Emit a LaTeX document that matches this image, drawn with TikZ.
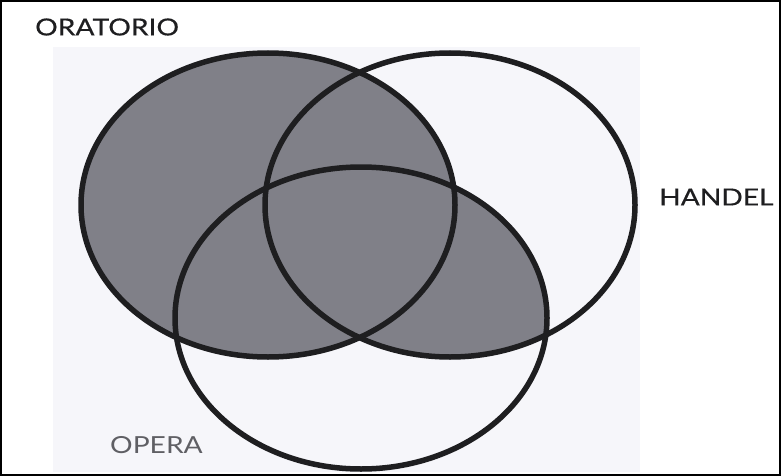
\documentclass[tikz,border=0pt]{standalone}
\usepackage{fontspec}
\setmainfont[FakeStretch=1.2, FakeBold=0.4]{Lato}
\newfontfamily\thinlato[FakeStretch=1.2]{Lato}
\usetikzlibrary{positioning}
\definecolor{vnedge}{RGB}{30,30,32}
\definecolor{vnfill}{RGB}{128,128,136}
\definecolor{vnpanel}{RGB}{246,246,250}
\definecolor{vnsoft}{RGB}{95,95,100}
\tikzset{
  ring/.style={draw=vnedge, line width=5.5pt},
  shade/.style={fill=vnfill},
  lbl/.style={font=\fontsize{23.5}{23.5}\selectfont, text=vnedge, inner sep=0pt},
  softlbl/.style={lbl, font=\thinlato\fontsize{23.5}{23.5}\selectfont, text=vnsoft},
  frame/.style={draw=black, line width=2pt}
}
\begin{document}
\begin{tikzpicture}[x=1pt, y=-1pt]
  \useasboundingbox (0,0) rectangle (781,476);
  \fill[vnpanel] (53,47) rectangle (640,472);
  % shaded parts
  \fill[shade] (268,205) ellipse [x radius=187, y radius=152];
  \begin{scope}
    \clip (450,205) ellipse [x radius=185, y radius=152];
    \fill[shade] (361,318) ellipse [x radius=186, y radius=151];
  \end{scope}
  % circles
  \draw[ring] (268,205) ellipse [x radius=187, y radius=152];
  \draw[ring] (450,205) ellipse [x radius=185, y radius=152];
  \draw[ring] (361,318) ellipse [x radius=186, y radius=151];
  % labels
  \node[lbl, anchor=west] (orat) at (35,27) {ORATORIO};
  \node[lbl, anchor=west] (hand) at (659,197) {HANDEL};
  \node[softlbl, anchor=west] (oper) at (110,445) {OPERA};
  \draw[frame] (1,1) rectangle (780,475);
\end{tikzpicture}
\end{document}
